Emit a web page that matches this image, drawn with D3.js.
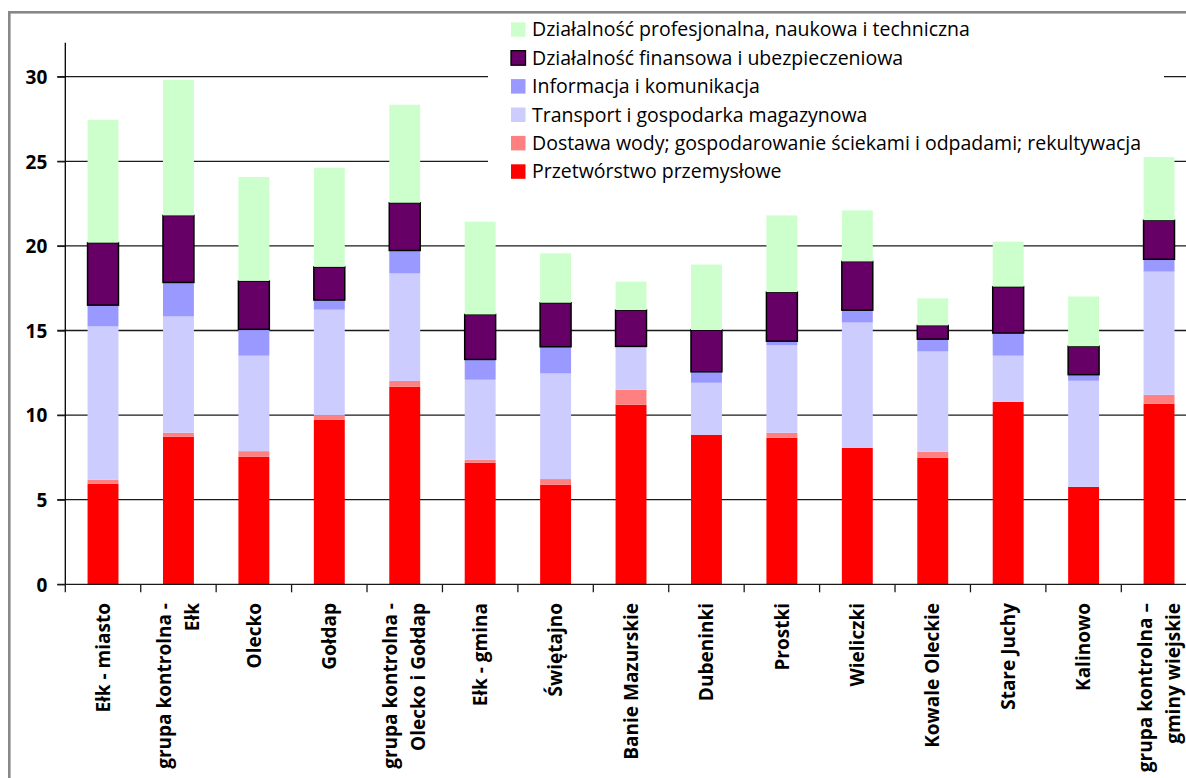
<!DOCTYPE html>
<html lang="pl">
<head>
<meta charset="utf-8">
<title>Struktura - wykres</title>
<style>
  body { margin: 0; background: #fff; }
  svg { display: block; }
  .tick_y { font-family: "Open Sans", sans-serif; font-weight: bold; font-size: 19px; }
  .tick_x { font-family: "Open Sans", sans-serif; font-weight: bold; font-size: 19px; }
  .legend_text { font-family: "Open Sans", sans-serif; font-size: 19.5px; }
</style>
<script src="https://cdn.jsdelivr.net/npm/d3@7"></script>
</head>
<body>
<script>

var w = 1186;
var h = 778;

// categories (label lines)
var categories = [
  ['Ełk - miasto'],
  ['grupa kontrolna -', 'Ełk'],
  ['Olecko'],
  ['Gołdap'],
  ['grupa kontrolna -', 'Olecko i Gołdap'],
  ['Ełk - gmina'],
  ['Świętajno'],
  ['Banie Mazurskie'],
  ['Dubeninki'],
  ['Prostki'],
  ['Wieliczki'],
  ['Kowale Oleckie'],
  ['Stare Juchy'],
  ['Kalinowo'],
  ['grupa kontrolna –', 'gminy wiejskie']
];

// series, bottom to top
var przetworstwo = [5.94, 8.72, 7.53, 9.72, 11.68, 7.18, 5.88, 10.61, 8.84, 8.66, 8.07, 7.48, 10.79, 5.76, 10.67];
var dostawa      = [0.24, 0.24, 0.34, 0.28, 0.34, 0.18, 0.34, 0.89, 0.00, 0.30, 0.00, 0.36, 0.00, 0.00, 0.53];
var transport    = [9.06, 6.87, 5.64, 6.23, 6.35, 4.73, 6.24, 2.52, 3.07, 5.17, 7.40, 5.92, 2.72, 6.27, 7.28];
var informacja   = [1.26, 2.01, 1.56, 0.57, 1.36, 1.20, 1.58, 0.04, 0.65, 0.24, 0.73, 0.73, 1.34, 0.36, 0.73];
var finansowa    = [3.69, 3.96, 2.86, 1.96, 2.82, 2.66, 2.60, 2.15, 2.47, 2.90, 2.88, 0.81, 2.74, 1.68, 2.31];
var profesjonalna= [7.26, 8.01, 6.14, 5.86, 5.79, 5.48, 2.92, 1.68, 3.87, 4.53, 3.02, 1.60, 2.66, 2.94, 3.73];

var y_ticks = [0, 5, 10, 15, 20, 25, 30];

var series = [
  {key: 'prz', name: 'Przetwórstwo przemysłowe', values: przetworstwo, color: '#ff0000'},
  {key: 'dos', name: 'Dostawa wody; gospodarowanie ściekami i odpadami; rekultywacja', values: dostawa, color: '#ff8080'},
  {key: 'tra', name: 'Transport i gospodarka magazynowa', values: transport, color: '#ccccff'},
  {key: 'inf', name: 'Informacja i komunikacja', values: informacja, color: '#9999ff'},
  {key: 'fin', name: 'Działalność finansowa i ubezpieczeniowa', values: finansowa, color: '#660066', stroke: '#000'},
  {key: 'pro', name: 'Działalność profesjonalna, naukowa i techniczna', values: profesjonalna, color: '#ccffcc'}
];

var rows = categories.map(function(c, i) {
  var r = {i: i};
  series.forEach(function(s) { r[s.key] = s.values[i]; });
  return r;
});

var stacked = d3.stack().keys(series.map(function(s) { return s.key; }))(rows);

var svg = d3.select('body').append('svg')
  .attr('width', w)
  .attr('height', h);

// plot area
var x0 = 65.3, x1 = 65.3 + 15 * 75.43;
var yBottom = 584.3, yTop = 76.7;

var xScale = d3.scaleBand()
  .domain(d3.range(categories.length))
  .range([x0, x1])
  .paddingInner(0.59)
  .paddingOuter(0.295);

var yScale = d3.scaleLinear()
  .domain([0, 30])
  .range([yBottom, yTop]);

// gridlines
svg.append('g')
  .selectAll('line')
  .data(y_ticks.filter(function(d) { return d > 0; }))
  .enter()
  .append('line')
  .attr('x1', x0 - 8)
  .attr('x2', x1)
  .attr('y1', function(d) { return yScale(d); })
  .attr('y2', function(d) { return yScale(d); })
  .attr('stroke', '#1a1a1a')
  .attr('stroke-width', 1.3);

// legend background sits over the gridlines but under the bars
var legend = svg.append('g');
legend.append('rect')
  .attr('x', 488).attr('y', 14)
  .attr('width', 1164 - 488).attr('height', 176)
  .attr('fill', '#fff');

// bars
var layers = svg.append('g')
  .selectAll('g')
  .data(stacked)
  .enter()
  .append('g')
  .attr('fill', function(d, i) { return series[i].color; });

layers.selectAll('rect')
  .data(function(d, i) { return d.map(function(p) { return {p: p, s: series[i]}; }); })
  .enter()
  .append('rect')
  .attr('x', function(d) { return xScale(d.p.data.i); })
  .attr('width', xScale.bandwidth())
  .attr('y', function(d) { return yScale(d.p[1]); })
  .attr('height', function(d) { return yScale(d.p[0]) - yScale(d.p[1]); })
  .attr('stroke', function(d) { return d.s.stroke || 'none'; })
  .attr('stroke-width', function(d) { return d.s.stroke ? 1.5 : 0; });

// y axis
var yAxis = d3.axisLeft(yScale)
  .tickValues(y_ticks)
  .tickSize(8)
  .tickPadding(10);

var gy = svg.append('g')
  .attr('transform', 'translate(' + x0 + ',0)')
  .call(yAxis);
gy.select('.domain')
  .attr('d', 'M0,' + 42.7 + 'V' + yBottom)
  .attr('stroke', '#000')
  .attr('stroke-width', 1.3);
gy.selectAll('.tick line').attr('stroke', '#1a1a1a').attr('stroke-width', 1.3);
gy.selectAll('.tick text')
  .attr('class', 'tick_y')
  .attr('fill', '#000')
  .attr('dy', '0.36em')
  .attr('x', -18);

// x axis line + ticks at category boundaries
var bounds = d3.range(categories.length + 1).map(function(i) {
  return x0 + i * xScale.step();
});
svg.append('line')
  .attr('x1', x0 - 8).attr('x2', x1)
  .attr('y1', yBottom).attr('y2', yBottom)
  .attr('stroke', '#1a1a1a').attr('stroke-width', 1.3);
svg.append('g')
  .selectAll('line')
  .data(bounds)
  .enter()
  .append('line')
  .attr('x1', function(d) { return d; })
  .attr('x2', function(d) { return d; })
  .attr('y1', yBottom)
  .attr('y2', yBottom + 8)
  .attr('stroke', '#1a1a1a')
  .attr('stroke-width', 1.3);

// x labels (rotated)
var lineGap = 28;
var labels = svg.append('g')
  .selectAll('text')
  .data(categories)
  .enter()
  .append('text')
  .attr('class', 'tick_x')
  .attr('text-anchor', 'end')
  .attr('transform', function(d, i) {
    var cx = xScale(i) + xScale.bandwidth() / 2;
    return 'translate(' + cx + ',603) rotate(-90)';
  });

labels.selectAll('tspan')
  .data(function(d) { return d.map(function(t, j) { return {t: t, j: j, n: d.length}; }); })
  .enter()
  .append('tspan')
  .attr('x', 0)
  .attr('y', function(d) { return (d.j - (d.n - 1) / 2) * lineGap; })
  .attr('dy', '0.35em')
  .text(function(d) { return d.t; });

// legend entries
var legendItems = legend.selectAll('g')
  .data(series.slice().reverse())
  .enter()
  .append('g')
  .attr('transform', function(d, i) { return 'translate(511,' + (22.3 + i * 28.4) + ')'; });

legendItems.append('rect')
  .attr('width', 14.5).attr('height', 14.5)
  .attr('fill', function(d) { return d.color; })
  .attr('stroke', function(d) { return d.stroke || 'none'; })
  .attr('stroke-width', 1.3);

legendItems.append('text')
  .attr('class', 'legend_text')
  .attr('x', 21)
  .attr('y', 14)
  .text(function(d) { return d.name; });

// outer border (chart area, clipped by the page)
svg.append('rect')
  .attr('x', 9.3).attr('y', 12.3)
  .attr('width', 1300).attr('height', 900)
  .attr('fill', 'none')
  .attr('stroke', '#888')
  .attr('stroke-width', 2.6);

</script>
</body>
</html>
